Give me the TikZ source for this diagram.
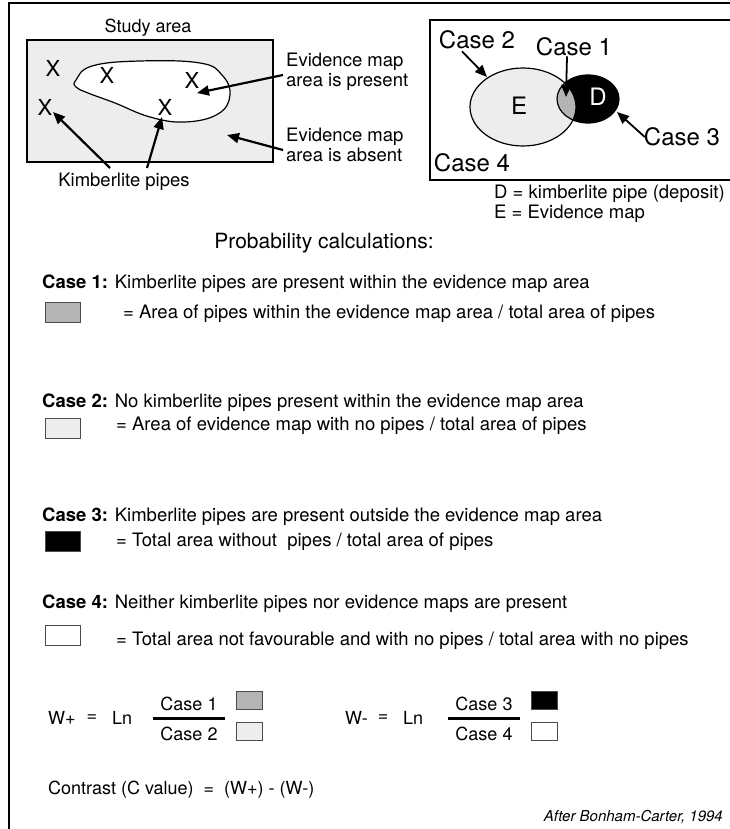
\documentclass[tikz,border=0pt]{standalone}
\usepackage{fontspec}
\setmainfont{TeX Gyre Heros}
\usetikzlibrary{arrows.meta}
\definecolor{lgray}{HTML}{EDEDED}
\definecolor{mgray}{HTML}{B4B4B4}
\begin{document}
\begin{tikzpicture}[x=1pt,y=-1pt,
  txt/.style={inner sep=0pt,font=\fontsize{18.5}{20}\selectfont},
  ftxt/.style={inner sep=0pt,font=\fontsize{18}{20}\selectfont},
  big/.style={inner sep=0pt,font=\fontsize{24}{26}\selectfont},
  xmark/.style={inner sep=0pt,font=\fontsize{22}{24}\selectfont},
  arr/.style={line width=2.2pt,-{Triangle[length=12pt,width=10pt]}},
  sq/.style={draw=black!70,line width=0.8pt,inner sep=0pt},
  csq/.style={sq,minimum width=35pt,minimum height=20pt},
  fsq/.style={sq,minimum width=26pt,minimum height=18pt},
  frame/.style={line width=2pt}]
\useasboundingbox (0,0) rectangle (730,829);
% outer frame
\coordinate (fbl) at (9,835);
\coordinate (ftl) at (9,3);
\coordinate (ftr) at (740,3);
\draw[frame] (fbl) -- (ftl) -- (ftr);
% study area
\node[txt,font=\fontsize{18}{20}\selectfont] (study) at (148,28) {Study area};
\draw[fill=lgray,line width=1.3pt] (27,40) rectangle (273,162);
\draw[fill=white,line width=1.2pt] plot[smooth cycle,tension=0.7] coordinates
  {(76,80) (92,66) (140,61) (200,63) (222,75) (230,95) (218,114) (185,122) (150,117) (115,103) (88,93) (76,87)};
\node[xmark] (x1) at (53,68) {X};
\node[xmark] (x2) at (107,75) {X};
\node[xmark] (x3) at (192,80) {X};
\node[xmark] (x4) at (45,107) {X};
\node[xmark] (x5) at (165,107) {X};
\node[txt,anchor=west,align=left] (present) at (286,72) {Evidence map\\area is present};
\node[txt,anchor=west,align=left] (absent) at (286,145) {Evidence map\\area is absent};
\node[txt] (kimb) at (124,182) {Kimberlite pipes};
\coordinate (tpresent) at (197,93);
\coordinate (tabsent) at (227,135);
\coordinate (k1) at (110,168);
\coordinate (k2) at (147,168);
\coordinate (tx4) at (53,112);
\coordinate (tx5) at (162,117);
\draw[arr] ([xshift=-3pt,yshift=-3pt]present.west) -- (tpresent);
\draw[arr] ([xshift=-3pt,yshift=-5pt]absent.west) -- (tabsent);
\draw[arr] (k1) -- (tx4);
\draw[arr] (k2) -- (tx5);
% Venn box
\draw[line width=1.5pt] (430,20) rectangle (745,180);
\fill[lgray] (523,107) ellipse [x radius=53,y radius=39];
\fill[black] (588,99) ellipse [x radius=31,y radius=24];
\begin{scope}
  \clip (523,107) ellipse [x radius=53,y radius=39];
  \fill[mgray] (588,99) ellipse [x radius=31,y radius=24];
\end{scope}
\draw[line width=1.2pt] (523,107) ellipse [x radius=53,y radius=39];
\draw[line width=1.2pt] (588,99) ellipse [x radius=31,y radius=24];
\node[big] (E) at (519,106) {E};
\node[big,text=white] (D) at (598,97) {D};
\node[big] (c2) at (477,40) {Case 2};
\node[big] (c1) at (574,47) {Case 1};
\node[big] (c3) at (682,137) {Case 3};
\node[big] (c4) at (472,163) {Case 4};
\coordinate (tc2) at (487,77);
\coordinate (tc1) at (566,97);
\coordinate (tc3) at (617,112);
\draw[arr,line width=1.8pt] ([xshift=-15pt,yshift=-2pt]c2.south) -- (tc2);
\draw[arr,line width=1.8pt] ([xshift=-7pt]c1.south) -- (tc1);
\draw[arr,line width=1.8pt] ([xshift=1pt]c3.west) -- (tc3);
\node[txt,anchor=west] (dlab) at (494,194) {D = kimberlite pipe (deposit)};
\node[txt,anchor=west] (elab) at (494,214) {E = Evidence map};
% probability calculations
\node[txt,font=\fontsize{21}{24}\selectfont] (prob) at (324,243) {Probability calculations:};
\node[txt,anchor=west] (case1) at (42,284) {\textbf{Case 1:} Kimberlite pipes are present within the evidence map area};
\node[csq,fill=mgray] (s1) at (62.5,312) {};
\node[txt,anchor=west] (eq1) at (123,314) {= Area of pipes within the evidence map area / total area of pipes};
\node[txt,anchor=west] (case2) at (42,403) {\textbf{Case 2:} No kimberlite pipes present within the evidence map area};
\node[csq,fill=lgray] (s2) at (62.5,428) {};
\node[txt,anchor=west] (eq2) at (116,426) {= Area of evidence map with no pipes / total area of pipes};
\node[txt,anchor=west] (case3) at (42,517) {\textbf{Case 3:} Kimberlite pipes are present outside the evidence map area};
\node[csq,fill=black] (s3) at (62.5,541) {};
\node[txt,anchor=west] (eq3) at (116,542) {= Total area without\ \ pipes / total area of pipes};
\node[txt,anchor=west] (case4) at (42,604) {\textbf{Case 4:} Neither kimberlite pipes nor evidence maps are present};
\node[csq,fill=white] (s4) at (62.5,635) {};
\node[txt,anchor=west] (eq4) at (116,641) {= Total area not favourable and with no pipes / total area with no pipes};
% formulas
\node[ftxt,anchor=west] (wp) at (48,718) {W+};
\node[ftxt] (eqp) at (92,718) {=};
\node[ftxt,anchor=west] (lnp) at (112,718) {Ln};
\node[ftxt] (n1) at (189,704) {Case 1};
\node[ftxt] (d2) at (189,734) {Case 2};
\coordinate (fp1) at (153,718);
\coordinate (fp2) at (225,718);
\draw[line width=3pt] (fp1) -- (fp2);
\node[fsq,fill=mgray] (fs1) at (249,700) {};
\node[fsq,fill=lgray] (fs2) at (249,731) {};
\node[ftxt,anchor=west] (wm) at (345,718) {W-};
\node[ftxt] (eqm) at (383,718) {=};
\node[ftxt,anchor=west] (lnm) at (403,718) {Ln};
\node[ftxt] (n3) at (484,704) {Case 3};
\node[ftxt] (d4) at (484,734) {Case 4};
\coordinate (fm1) at (448,718);
\coordinate (fm2) at (520,718);
\draw[line width=3pt] (fm1) -- (fm2);
\node[fsq,fill=black] (fs3) at (544,700) {};
\node[fsq,fill=white] (fs4) at (544,731) {};
\node[ftxt,anchor=west] (contrast) at (48,790) {Contrast (C value)\ \ =\ \ (W+) - (W-)};
\node[txt,anchor=east,font=\fontsize{15}{18}\itshape] (after) at (723,817) {After Bonham-Carter, 1994};
\end{tikzpicture}
\end{document}
